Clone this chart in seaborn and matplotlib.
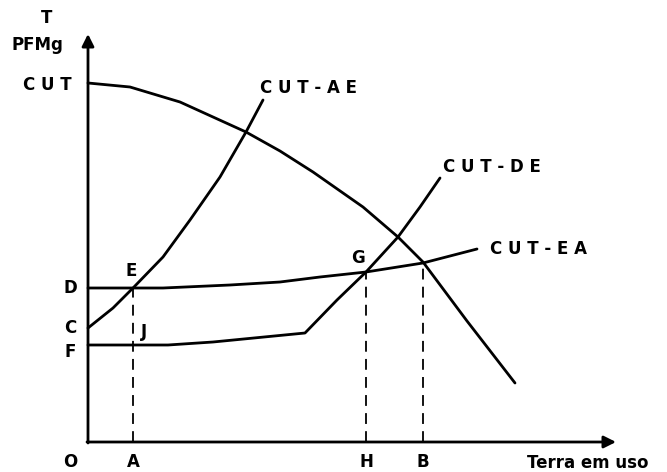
import numpy as np
import pandas as pd
import matplotlib
matplotlib.use("Agg")
import matplotlib.pyplot as plt
import seaborn as sns

# curves, in units from the origin O
cut_x = [0, 42, 92, 125, 158, 192, 225, 275, 310, 335, 379, 427]
cut_y = [359, 355, 340, 325, 310, 291, 270, 235, 205, 180, 121, 59]

cut_ae_x = [0, 25, 45, 75, 102, 132, 158, 175]
cut_ae_y = [114, 134, 154, 185, 222, 265, 310, 342]

cut_ea_x = [0, 75, 142, 192, 232, 278, 335, 389]
cut_ea_y = [154, 154, 157, 160, 165, 170, 179, 193]

cut_de_x = [0, 80, 125, 217, 249, 278, 310, 332, 352]
cut_de_y = [97, 97, 100, 109, 142, 170, 205, 235, 264]

# points dropped to the horizontal axis: A, H, B
drop_names = ["A", "H", "B"]
drop_x = [45, 278, 335]
drop_y = [154, 170, 179]

# levels marked on the vertical axis
level_names = ["D", "C", "F"]
level_y = [154, 114, 90]

sns.set_style("white")
plt.rcParams['font.family'] = ['DejaVu Sans']

fig = plt.figure(figsize=(6.67, 4.72), dpi=100)
ax = fig.add_axes([0, 0, 1, 1])

lw = 2.0
for xs, ys in [(cut_x, cut_y), (cut_ae_x, cut_ae_y), (cut_ea_x, cut_ea_y), (cut_de_x, cut_de_y)]:
    df = pd.DataFrame({"x": xs, "y": ys})
    sns.lineplot(data=df, x="x", y="y", sort=False, estimator=None, color="black",
                 lw=lw, solid_joinstyle="round", ax=ax)

for x, y in zip(drop_x, drop_y):
    ax.plot([x, x], [0, y], color="black", lw=1.3, dashes=(6, 4))

# axes with arrows
ax.annotate("", xy=(0, 408), xytext=(0, -1),
            arrowprops=dict(arrowstyle="-|>", color="black", lw=lw, mutation_scale=18, shrinkA=0, shrinkB=0))
ax.annotate("", xy=(528, 0), xytext=(-1, 0),
            arrowprops=dict(arrowstyle="-|>", color="black", lw=lw, mutation_scale=18, shrinkA=0, shrinkB=0))

fs = 12
kw = dict(fontsize=fs, fontweight="bold", color="black", va="center")
ax.text(-18, -20, "O", ha="center", **kw)
for n, x in zip(drop_names, drop_x):
    ax.text(x, -20, n, ha="center", **kw)
ax.text(439, -21, "Terra em uso", ha="left", **kw)
for n, y in zip(level_names, level_y):
    ax.text(-18, y, n, ha="center", **kw)
ax.text(-41, 357, "C U T", ha="center", **kw)
ax.text(-51, 397, "PFMg", ha="center", **kw)
ax.text(-41, 424, "T", ha="center", **kw)
ax.text(43, 171, "E", ha="center", **kw)
ax.text(56, 110, "J", ha="center", **kw)
ax.text(270, 184, "G", ha="center", **kw)
ax.text(172, 354, "C U T - A E", ha="left", **kw)
ax.text(355, 275, "C U T - D E", ha="left", **kw)
ax.text(402, 193, "C U T - E A", ha="left", **kw)

ax.set_xlim(-88, 579)
ax.set_ylim(-30, 442)
ax.axis("off")

fig.savefig("out.png", dpi=100)
